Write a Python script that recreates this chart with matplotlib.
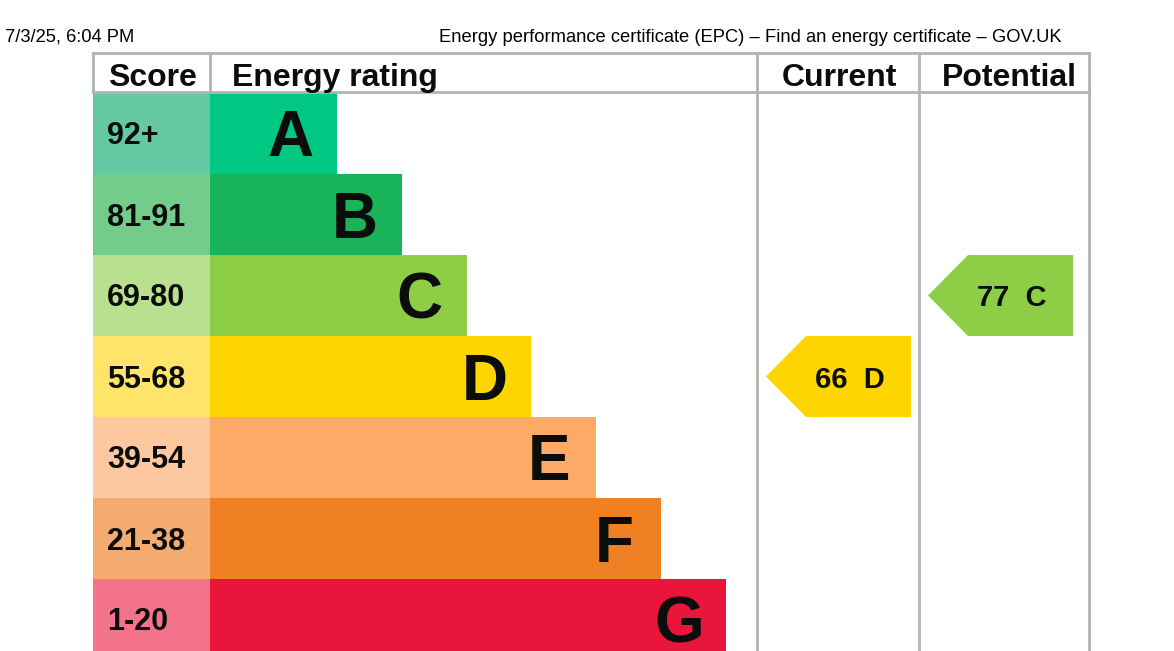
import matplotlib
matplotlib.use('Agg')
import matplotlib.pyplot as plt
from matplotlib.patches import Polygon

plt.rcParams['font.family'] = ['Liberation Sans', 'DejaVu Sans']

bands = ['A', 'B', 'C', 'D', 'E', 'F', 'G']
score_ranges = ['92+', '81-91', '69-80', '55-68', '39-54', '21-38', '1-20']
band_floor = [92, 81, 69, 55, 39, 21, 1]
band_colours = ['#00c781', '#19b459', '#8dce46', '#ffd500', '#fcaa65', '#ef8023', '#e9153b']
score_colours = ['#64c9a3', '#74cc8b', '#b9e08e', '#ffe46a', '#fdc7a0', '#f4ab70', '#f2738a']
current_score = 66
potential_score = 77
header_labels = ['Score', 'Energy rating', 'Current', 'Potential']
page_date = '7/3/25, 6:04 PM'
page_title = 'Energy performance certificate (EPC) \u2013 Find an energy certificate \u2013 GOV.UK'

# ---- layout (pixel units)
W, H = 1174, 651
left, score_right, bar_right_col, cur_right, right = 93, 210, 757, 919, 1089
top, head_bot, row_h = 53, 93, 81
grid = '#b1b4b6'
ink = '#0b0c0c'

def band_of(score):
    for i, lo in enumerate(band_floor):
        if score >= lo:
            return i
    return len(bands) - 1

fig = plt.figure(figsize=(W / 100, H / 100), dpi=100)
ax = fig.add_axes([0, 0, 1, 1])
ax.set_xlim(0, W)
ax.set_ylim(H, 0)
ax.axis('off')

centres = [head_bot + row_h * i + row_h / 2 for i in range(len(bands))]
widths = [127 + 64.8 * i for i in range(len(bands))]

ax.barh(centres, score_right - left + 0.5, left=left, height=row_h, color=score_colours, linewidth=0)
ax.barh(centres, widths, left=score_right, height=row_h, color=band_colours, linewidth=0)

for i, c in enumerate(centres):
    ax.text(107, c + 11, score_ranges[i], fontsize=22, fontweight='bold', color=ink,
            ha='left', va='baseline')
    ax.text(score_right + widths[i] - 47, c + 23, bands[i], fontsize=46, fontweight='bold',
            color=ink, ha='center', va='baseline')

# table lines
ax.plot([left, right], [top, top], color=grid, lw=2)
ax.plot([left, right], [head_bot - 1, head_bot - 1], color=grid, lw=2)
for x in [left, score_right, bar_right_col, cur_right, right]:
    y1 = head_bot - 1 if x in (left, score_right) else H
    ax.plot([x, x], [top, y1], color=grid, lw=2)

head_y = 86
hs = 23
ax.text(152, head_y, header_labels[0], fontsize=hs, fontweight='bold',
        color=ink, ha='center', va='baseline')
ax.text(232, head_y, header_labels[1], fontsize=hs, fontweight='bold',
        color=ink, ha='left', va='baseline')
ax.text(839, head_y, header_labels[2], fontsize=hs, fontweight='bold',
        color=ink, ha='center', va='baseline')
ax.text(1009, head_y, header_labels[3], fontsize=hs, fontweight='bold',
        color=ink, ha='center', va='baseline')

# rating arrows
def arrow(x0, score):
    i = band_of(score)
    yt, yb = head_bot + row_h * i, head_bot + row_h * (i + 1)
    yc = (yt + yb) / 2
    pts = [(x0, yc), (x0 + 40, yt), (x0 + 145, yt), (x0 + 145, yb), (x0 + 40, yb)]
    ax.add_patch(Polygon(pts, closed=True, facecolor=band_colours[i], edgecolor='none'))
    ax.text(x0 + 84, yc + 11, '%d  %s' % (score, bands[i]), fontsize=21, fontweight='bold',
            color=ink, ha='center', va='baseline')

arrow(766, current_score)
arrow(928, potential_score)

ax.text(5, 42, page_date, fontsize=13.2, color='#000000', ha='left', va='baseline')
ax.text(1062, 42, page_title, fontsize=13.2, color='#000000', ha='right', va='baseline')

fig.savefig('out.png', dpi=100, facecolor='white')
